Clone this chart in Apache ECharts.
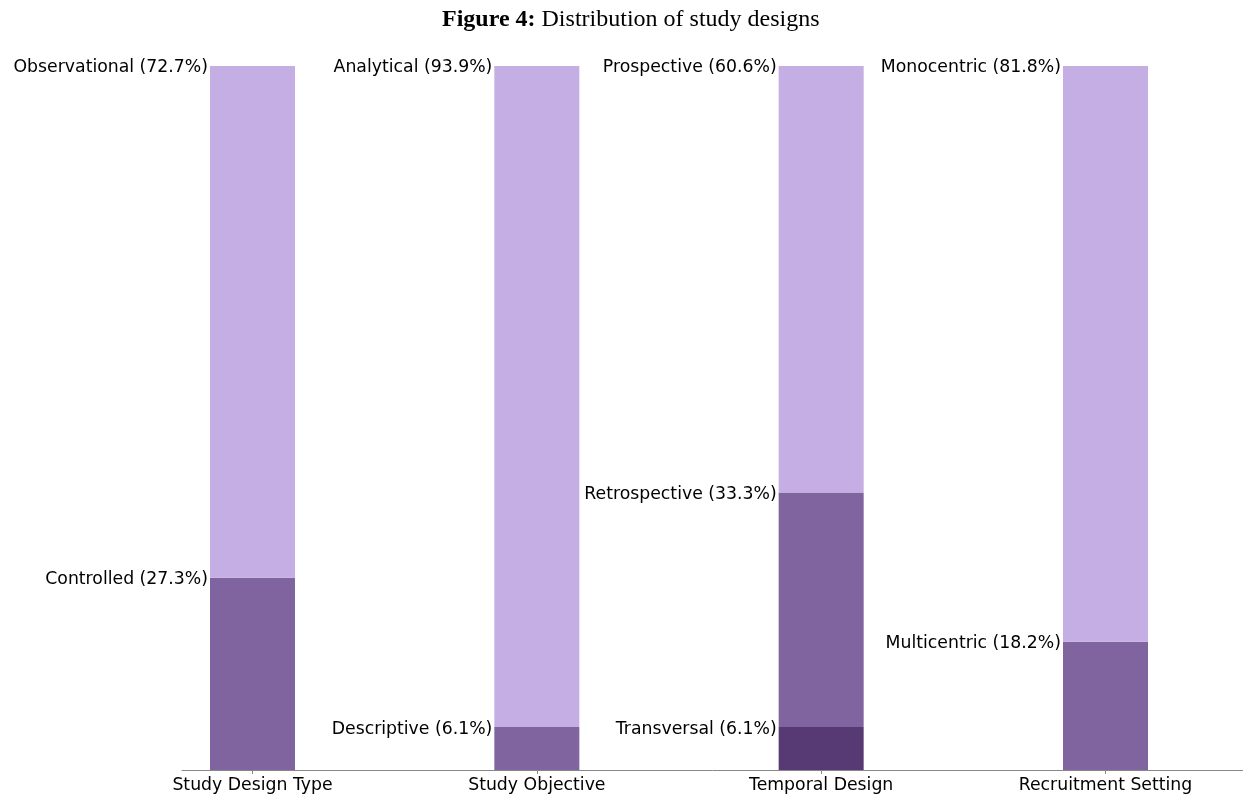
<!DOCTYPE html>
<html>
<head>
<meta charset="utf-8">
<script src="https://cdn.jsdelivr.net/npm/echarts@6/dist/echarts.min.js"></script>
<style>
html,body{margin:0;padding:0;background:#fff;}
#chart{width:1243px;height:795px;}
</style>
</head>
<body>
<div id="chart"></div>
<script>
const categories = ['Study Design Type', 'Study Objective', 'Temporal Design', 'Recruitment Setting'];
// segments listed from bottom to top for each category
const segmentNames = [
  ['Controlled', 'Observational'],
  ['Descriptive', 'Analytical'],
  ['Transversal', 'Retrospective', 'Prospective'],
  ['Multicentric', 'Monocentric']
];
const segmentValues = [
  [27.3, 72.7],
  [6.1, 93.9],
  [6.1, 33.3, 60.6],
  [18.2, 81.8]
];
// colour by position counted from the top segment
const colorsFromTop = ['#C5AEE3', '#8064A0', '#573A73'];

const LABEL_FONT = 'DejaVu Sans';
const LABEL_SIZE = 17.3;

const maxLevels = Math.max(...segmentValues.map(v => v.length));
const series = [];
for (let lvl = 0; lvl < maxLevels; lvl++) {
  const data = categories.map((c, ci) => {
    const vals = segmentValues[ci];
    if (lvl >= vals.length) return '-';
    const fromTop = vals.length - 1 - lvl;
    return {
      value: vals[lvl],
      name: segmentNames[ci][lvl],
      itemStyle: { color: colorsFromTop[fromTop] }
    };
  });
  series.push({
    type: 'bar',
    stack: 'total',
    barWidth: 85,
    clip: false,
    xAxisIndex: 0,
    yAxisIndex: 0,
    data: data,
    label: {
      show: true,
      position: [-2, 2],
      align: 'right',
      verticalAlign: 'middle',
      fontFamily: LABEL_FONT,
      fontSize: LABEL_SIZE,
      color: '#000',
      formatter: p => p.data.name + ' (' + p.data.value.toFixed(1) + '%)'
    },
    emphasis: { disabled: true }
  });
}

const chart = echarts.init(document.getElementById('chart'), null, { renderer: 'canvas' });
chart.setOption({
  animation: false,
  backgroundColor: '#fff',
  title: {
    text: '{b|Figure 4:} Distribution of study designs',
    left: 437,
    top: 3,
    textStyle: {
      fontFamily: 'Liberation Serif',
      fontSize: 24,
      fontWeight: 'normal',
      color: '#000',
      rich: {
        b: { fontFamily: 'Liberation Serif', fontSize: 24, fontWeight: 'bold', color: '#000' }
      }
    }
  },
  grid: [
    { left: 252.5, right: 137.5, top: 66, bottom: 25, containLabel: false },
    { left: 182, right: 0, top: 66, bottom: 25, containLabel: false }
  ],
  xAxis: [
    {
      type: 'category',
      gridIndex: 0,
      data: categories,
      boundaryGap: false,
      axisLine: { show: false },
      axisTick: { show: true, length: 4, lineStyle: { color: '#888' } },
      axisLabel: {
        fontFamily: LABEL_FONT,
        fontSize: LABEL_SIZE,
        color: '#000',
        margin: 7,
        interval: 0
      }
    },
    {
      type: 'value',
      gridIndex: 1,
      min: 0,
      max: 1,
      axisLine: { show: true, lineStyle: { color: '#888', width: 1 } },
      axisTick: { show: false },
      axisLabel: { show: false },
      splitLine: { show: false }
    }
  ],
  yAxis: [
    { type: 'value', gridIndex: 0, min: 0, max: 100, show: false, splitLine: { show: false } },
    { type: 'value', gridIndex: 1, min: 0, max: 100, show: false, splitLine: { show: false } }
  ],
  series: series
});
</script>
</body>
</html>
